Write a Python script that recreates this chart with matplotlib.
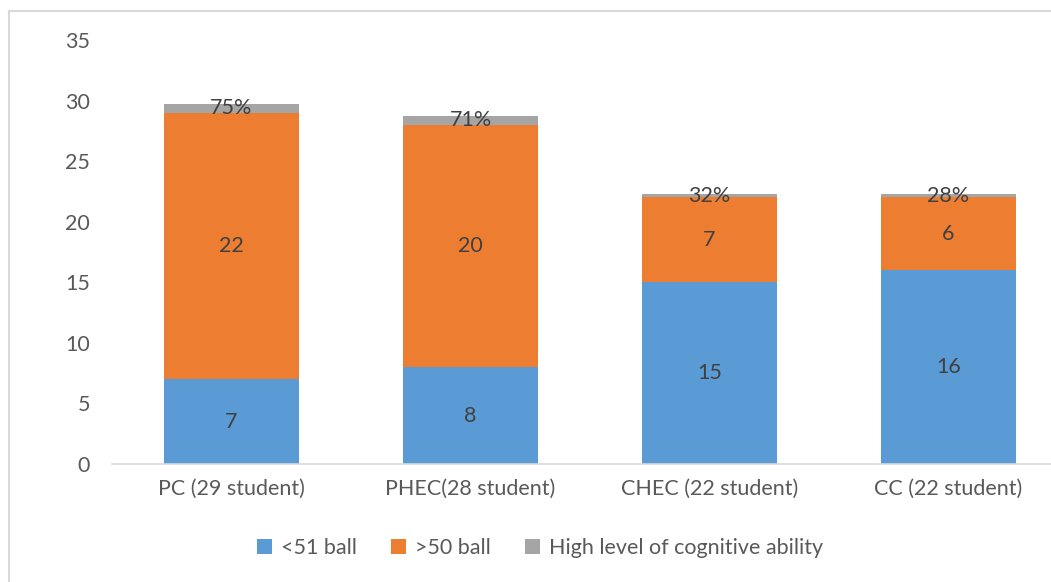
import numpy as np
import matplotlib.pyplot as plt

plt.rcParams['font.family'] = ['Lato', 'DejaVu Sans']

categories = ['PC (29 student)', 'PHEC(28 student)', 'CHEC (22 student)', 'CC (22 student)']
low = [7, 8, 15, 16]
high = [22, 20, 7, 6]
cognitive = [0.75, 0.71, 0.32, 0.28]
cognitive_labels = ['75%', '71%', '32%', '28%']

fig = plt.figure(figsize=(10.51, 5.82), dpi=100)
ax = fig.add_axes([0.1066, 0.2027, 0.9096, 0.7286])

x = np.arange(len(categories))
w = 0.565
low = np.array(low)
high = np.array(high)
cognitive = np.array(cognitive)

b1 = ax.bar(x, low, w, color='#5b9bd5', label='<51 ball')
b2 = ax.bar(x, high, w, bottom=low, color='#ed7d31', label='>50 ball')
b3 = ax.bar(x, cognitive, w, bottom=low + high, color='#a5a5a5', label='High level of cognitive ability')

fs = 15.5
for i in range(len(x)):
    ax.text(x[i], low[i] / 2, str(low[i]), ha='center', va='center', fontsize=fs, color='#404040')
    ax.text(x[i], low[i] + high[i] / 2, str(high[i]), ha='center', va='center', fontsize=fs, color='#404040')
    ax.text(x[i], low[i] + high[i] + cognitive[i] / 2, cognitive_labels[i], ha='center', va='center',
            fontsize=fs, color='#404040')

ax.set_xlim(-0.5, 3.5)
ax.set_ylim(0, 35)
ax.set_yticks(range(0, 36, 5))
ax.set_xticks(x)
ax.set_xticklabels(categories)
ax.tick_params(axis='both', length=0, labelsize=fs, colors='#595959')
ax.tick_params(axis='x', pad=11)
ax.tick_params(axis='y', pad=16)
for s in ['top', 'right', 'left']:
    ax.spines[s].set_visible(False)
ax.spines['bottom'].set_color('#d9d9d9')
ax.spines['bottom'].set_linewidth(1.2)

leg = fig.legend(handles=[b1, b2, b3], loc='center', bbox_to_anchor=(0.514, 0.058), ncol=3, frameon=False,
                 fontsize=fs, handlelength=0.7, handleheight=0.7, handletextpad=0.4, columnspacing=1.6)
for t in leg.get_texts():
    t.set_color('#595959')

# chart border (only left/top visible in the crop)
fig.add_artist(plt.Line2D([0.0086, 0.0086], [0, 0.981], color='#d9d9d9', lw=1.5, transform=fig.transFigure))
fig.add_artist(plt.Line2D([0.0086, 1], [0.981, 0.981], color='#d9d9d9', lw=1.5, transform=fig.transFigure))

fig.savefig('out.png', dpi=100)
